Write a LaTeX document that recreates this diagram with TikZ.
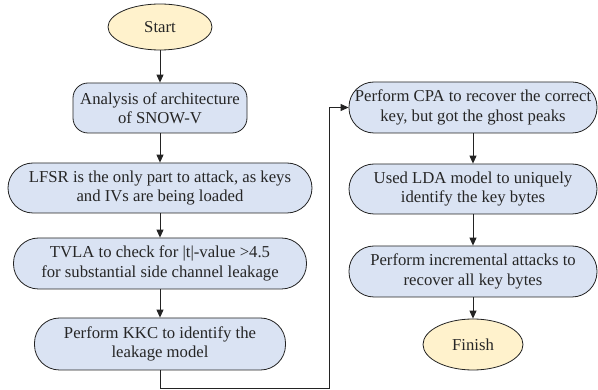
\documentclass[tikz,border=0pt]{standalone}
\usepackage{fontspec}
\setmainfont{LiberationSerif}[Extension=.ttf, UprightFont=*-Regular, BoldFont=*-Bold, ItalicFont=*-Italic]
\usetikzlibrary{arrows.meta,shapes.geometric}
\definecolor{boxblue}{RGB}{218,227,243}
\definecolor{termyellow}{RGB}{255,242,204}
\definecolor{edgec}{RGB}{35,35,35}
\begin{document}
\begin{tikzpicture}[x=1pt,y=-1pt,
  txt/.style={align=center, inner sep=0pt, font=\rmfamily\fontsize{16.7}{19.5}\selectfont, text=black!85},
  proc/.style={txt, draw=edgec, line width=0.8pt, fill=boxblue, rounded corners=25pt},
  term/.style={txt, ellipse, draw=edgec, line width=0.8pt, fill=termyellow},
  arr/.style={draw=edgec, line width=0.9pt, -{Triangle[length=8pt,width=7pt]}}]
\useasboundingbox (0,0) rectangle (598,390);
% left column
\node[term, minimum width=104pt, minimum height=46pt] (start) at (160,27) {Start};
\node[proc, rounded corners=15pt, minimum width=174pt, minimum height=50pt] (b1) at (160,108) {Analysis of architecture\\of SNOW-V};
\node[proc, minimum width=304pt, minimum height=50pt] (b2) at (160,188) {LFSR is the only part to attack, as keys\\and IVs are being loaded};
\node[proc, minimum width=293pt, minimum height=51pt] (b3) at (160,263.5) {TVLA to check for |t|-value >4.5\\for substantial side channel leakage};
\node[proc, minimum width=251pt, minimum height=52pt] (b4) at (160,344) {Perform KKC to identify the\\leakage model};
% right column
\node[proc, minimum width=248pt, minimum height=51pt] (b5) at (473,107.5) {Perform CPA to recover the correct\\key, but got the ghost peaks};
\node[proc, minimum width=248pt, minimum height=50pt] (b6) at (473,189) {Used LDA model to uniquely\\identify the key bytes};
\node[proc, minimum width=248pt, minimum height=51pt] (b7) at (473,271.5) {Perform incremental attacks to\\recover all key bytes};
\node[term, minimum width=100pt, minimum height=51pt] (finish) at (473,344.5) {Finish};
\coordinate (c1) at (329,388);
% connectors
\draw[arr] (start) -- (b1);
\draw[arr] (b1) -- (b2);
\draw[arr] (b2) -- (b3);
\draw[arr] (b3) -- (b4);
\draw[arr] (b4.south) |- (c1) |- (b5.west);
\draw[arr] (b5) -- (b6);
\draw[arr] (b6) -- (b7);
\draw[arr] (b7) -- (finish);
\end{tikzpicture}
\end{document}
